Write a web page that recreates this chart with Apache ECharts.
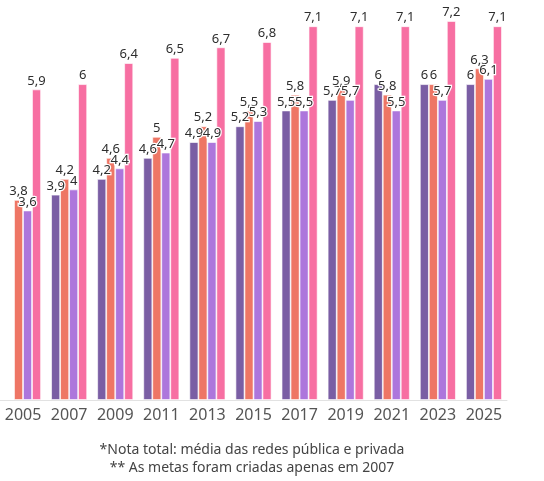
<!DOCTYPE html>
<html>
<head>
<meta charset="utf-8">
<script src="https://cdn.jsdelivr.net/npm/echarts@6/dist/echarts.min.js"></script>
<style>
  html, body { margin: 0; padding: 0; background: #fff; }
  #chart { width: 544px; height: 481px; }
</style>
</head>
<body>
<div id="chart"></div>
<script>
var anos = ['2005', '2007', '2009', '2011', '2013', '2015', '2017', '2019', '2021', '2023', '2025'];
var metas = [null, 3.9, 4.2, 4.6, 4.9, 5.2, 5.5, 5.7, 6, 6, 6];
var notaTotal = [3.8, 4.2, 4.6, 5, 5.2, 5.5, 5.8, 5.9, 5.8, 6, 6.3];
var redePublica = [3.6, 4, 4.4, 4.7, 4.9, 5.3, 5.5, 5.7, 5.5, 5.7, 6.1];
var redePrivada = [5.9, 6, 6.4, 6.5, 6.7, 6.8, 7.1, 7.1, 7.1, 7.2, 7.1];
var cores = ['#7a5ea4', '#ee7665', '#ad76dc', '#f76fa2'];

var chart = echarts.init(document.getElementById('chart'));

function serie(nome, dados, cor) {
    return {
        name: nome, type: 'bar', data: dados,
        barWidth: 9, barGap: '0%',
        itemStyle: {color: cor, borderColor: 'rgba(255,255,255,0.8)', borderWidth: 0.8},
        label: {
            show: true, position: 'top', distance: 2,
            fontFamily: 'Noto Sans', fontSize: 13, color: '#2e2e2e',
            textBorderColor: '#fff', textBorderWidth: 2.5,
            formatter: function (p) { return String(p.value).replace('.', ','); }
        }
    };
}

chart.setOption({
    animation: false,
    grid: {left: -2, right: 37, top: 21, bottom: 81},
    xAxis: {
        type: 'category', data: anos,
        axisLine: {lineStyle: {color: '#e2e2e2'}},
        axisTick: {alignWithLabel: true, length: 5, lineStyle: {color: '#e2e2e2'}},
        axisLabel: {interval: 0, fontFamily: 'Noto Sans', fontSize: 16, color: '#555', margin: 7}
    },
    yAxis: {type: 'value', min: 0, max: 7.2, show: false, splitLine: {show: false}},
    series: [
        serie('Metas', metas, cores[0]),
        serie('Nota total', notaTotal, cores[1]),
        serie('Rede pública', redePublica, cores[2]),
        serie('Rede privada', redePrivada, cores[3])
    ],
    graphic: [
        {type: 'text', x: 252, y: 450, style: {text: '*Nota total: média das redes pública e privada', fontFamily: 'Noto Sans', fontSize: 14, fill: '#444', align: 'center', verticalAlign: 'middle'}},
        {type: 'text', x: 252, y: 468, style: {text: '** As metas foram criadas apenas em 2007', fontFamily: 'Noto Sans', fontSize: 14, fill: '#444', align: 'center', verticalAlign: 'middle'}}
    ]
});
</script>
</body>
</html>
